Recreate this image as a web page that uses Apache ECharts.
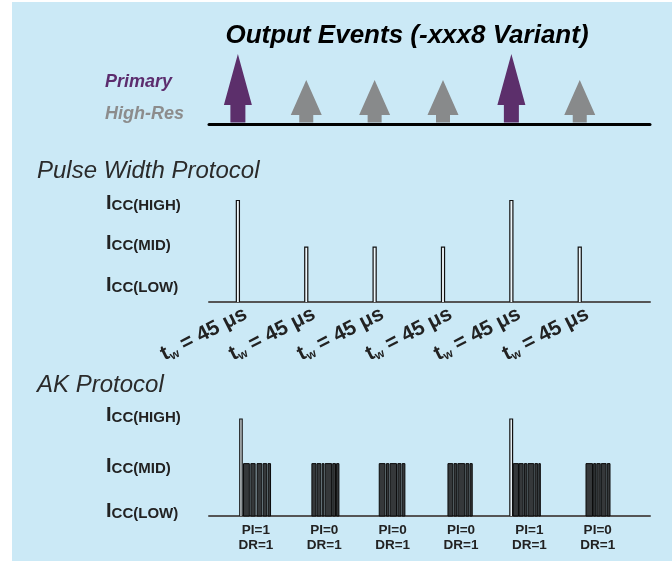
<!DOCTYPE html>
<html><head><meta charset="utf-8">
<script src="https://cdn.jsdelivr.net/npm/echarts@6/dist/echarts.min.js"></script>
<style>html,body{margin:0;padding:0;background:#fff;}#c{width:672px;height:561px;}</style>
</head><body><div id="c"></div>
<script>
// ---------------- data ----------------
const eventTimes   = [400, 1400, 2400, 3400, 4400, 5400];          // µs
const eventTypes   = ['Primary','High-Res','High-Res','High-Res','Primary','High-Res'];
const arrowHeights = [1, 0.63, 0.63, 0.63, 1, 0.63];
const levelNames   = ['LOW','MID','HIGH'];
const levelValues  = [0, 0.54, 1];
const pwLevels     = ['HIGH','MID','MID','MID','HIGH','MID'];
const pwWidth      = 45;                                            // µs
const twValue      = '45 μs';
const akPI         = [1, 0, 0, 0, 1, 0];
const akDR         = [1, 1, 1, 1, 1, 1];
const akHighOffset = [50, null, null, null, 0, null];               // µs after event
const akHighWidth  = [35, null, null, null, 40, null];
// burst blocks [offset µs after event, width µs]
const akBursts = [
  [[105,85],[212,63],[302,70],[392,52],[463,37]],
  [[105,60],[180,55],[255,25],[298,95],[410,40],[466,34]],
  [[90,85],[195,35],[248,95],[362,45],[425,40]],
  [[95,70],[183,40],[240,100],[358,42],[417,33]],
  [[51,75],[135,60],[213,35],[265,85],[367,40],[424,22]],
  [[114,95],[226,30],[272,50],[338,70],[425,40]]
];
const akLabelOffset = 285;                                          // µs after event
const timeRange = [0, 6450];

// ---------------- styles ----------------
const FF = 'Liberation Sans, Arial, sans-serif';
const arrowStyle = {
  'Primary':  {color:'#5c2f6b', head:51, headW:28, shaftW:15},
  'High-Res': {color:'#888a8b', head:35, headW:31, shaftW:14}
};
const lv = n => levelValues[levelNames.indexOf(n)];

// derived series data
const pwData = eventTimes.map((t,i)=>[t, t+pwWidth, lv(pwLevels[i]), 0]);
const akData = [];
eventTimes.forEach((t,i)=>{
  if (akHighOffset[i] !== null) akData.push([t+akHighOffset[i], t+akHighOffset[i]+akHighWidth[i], lv('HIGH'), 0]);
  akBursts[i].forEach(b=>akData.push([t+b[0], t+b[0]+b[1], lv('MID'), 1]));
});

function renderPulse(params, api){
  const x0 = api.value(0), x1 = api.value(1), y = api.value(2), kind = api.value(3);
  const a = api.coord([x0, 0]), b = api.coord([x1, y]);
  if (kind === 0) {
    return {type:'polyline', shape:{points:[[a[0],a[1]],[a[0],b[1]],[b[0],b[1]],[b[0],a[1]]]},
      style:{fill:'#eef7fb', stroke:'#111', lineWidth:1.2}};
  }
  return {type:'rect', shape:{x:a[0], y:b[1], width:b[0]-a[0], height:a[1]-b[1]},
    style:{fill:'#35383a', stroke:'#0a0a0a', lineWidth:1}};
}

function axisX(g, color, w){
  return {gridIndex:g, type:'value', min:timeRange[0], max:timeRange[1], position:'bottom',
    axisLine:{show:true, onZero:false, lineStyle:{color:color, width:w}},
    axisTick:{show:false}, axisLabel:{show:false}, splitLine:{show:false}};
}
function axisY(g){ return {gridIndex:g, type:'value', min:0, max:1, show:false, splitLine:{show:false}}; }

function iccLabel(name, x, y){
  return {type:'text', x:x, y:y, style:{
    text:'{i|I}{s|CC(' + name + ')}', fill:'#222', align:'left', verticalAlign:'bottom',
    rich:{
      i:{fontSize:20, fontWeight:'bold', lineHeight:20, verticalAlign:'bottom', fontFamily:FF, fill:'#222'},
      s:{fontSize:15, fontWeight:'bold', lineHeight:15, verticalAlign:'bottom', fontFamily:FF, fill:'#222'}
    }}};
}

const chart = echarts.init(document.getElementById('c'), null, {renderer:'canvas'});
chart.setOption({
  backgroundColor:'#ffffff',
  animation:false,
  grid:[
    {left:209, top:54, width:441, height:70},
    {left:209, top:200.5, width:441, height:101.5},
    {left:209, top:419, width:441, height:97}
  ],
  xAxis:[axisX(0,'#000',3), axisX(1,'#555',2), axisX(2,'#555',2)],
  yAxis:[axisY(0), axisY(1), axisY(2)],
  graphic:[
    {type:'rect', z:-100, silent:true, shape:{x:12, y:2, width:660, height:559}, style:{fill:'#cbe9f6'}},
    {type:'text', x:407, y:36, style:{text:'Output Events (-xxx8 Variant)', font:'italic bold 26px ' + FF, fill:'#000', align:'center', verticalAlign:'middle'}},
    {type:'text', x:105, y:82, style:{text:'Primary', font:'italic bold 18px ' + FF, fill:'#5c2d6e', align:'left', verticalAlign:'middle'}},
    {type:'text', x:105, y:114, style:{text:'High-Res', font:'italic bold 18px ' + FF, fill:'#8c8c8c', align:'left', verticalAlign:'middle'}},
    {type:'text', x:37, y:171.5, style:{text:'Pulse Width Protocol', font:'italic 24px ' + FF, fill:'#2b2b2b', align:'left', verticalAlign:'middle'}},
    {type:'text', x:37, y:385, style:{text:'AK Protocol', font:'italic 24px ' + FF, fill:'#2b2b2b', align:'left', verticalAlign:'middle'}},
    iccLabel('HIGH', 106, 213.5), iccLabel('MID', 106, 253.5), iccLabel('LOW', 106, 295),
    iccLabel('HIGH', 106, 425), iccLabel('MID', 106, 476.5), iccLabel('LOW', 106, 521.5)
  ],
  series:[
    { // output event arrows
      type:'custom', xAxisIndex:0, yAxisIndex:0,
      data: eventTimes.map((t,i)=>[t+pwWidth/2, arrowHeights[i]]),
      encode:{x:0, y:1},
      renderItem:(params, api)=>{
        const st = arrowStyle[eventTypes[params.dataIndex]];
        const base = api.coord([api.value(0), 0]);
        const tip = api.coord([api.value(0), api.value(1)]);
        const cx = base[0], hb = tip[1] + st.head, by = base[1] - 1.5;
        return {type:'polygon', shape:{points:[
          [cx-st.shaftW/2,by],[cx-st.shaftW/2,hb],[cx-st.headW/2,hb],[cx,tip[1]],
          [cx+st.headW/2,hb],[cx+st.shaftW/2,hb],[cx+st.shaftW/2,by]]},
          style:{fill:st.color}};
      }
    },
    { // pulse width protocol pulses
      type:'custom', xAxisIndex:1, yAxisIndex:1, data:pwData, encode:{x:[0,1], y:2},
      renderItem:renderPulse
    },
    { // tw labels
      type:'custom', xAxisIndex:1, yAxisIndex:1,
      data: eventTimes.map(t=>[t+pwWidth/2, 0]), encode:{x:0, y:1},
      renderItem:(params, api)=>{
        const p = api.coord([api.value(0), api.value(1)]);
        return {type:'text', x:p[0]+13, y:p[1]+21, rotation:27*Math.PI/180, style:{
          text:'{t|t}{w|w}{r| = ' + twValue + '}', fill:'#222', align:'right', verticalAlign:'bottom',
          rich:{
            t:{fontSize:21, fontWeight:'bold', lineHeight:22, verticalAlign:'top', fontFamily:FF, fill:'#222'},
            w:{fontSize:12, fontWeight:'bold', lineHeight:12, verticalAlign:'bottom', fontFamily:FF, fill:'#222'},
            r:{fontSize:21, fontWeight:'bold', lineHeight:22, verticalAlign:'top', fontFamily:FF, fill:'#222'}
          }}};
      }
    },
    { // AK protocol pulses
      type:'custom', xAxisIndex:2, yAxisIndex:2, data:akData, encode:{x:[0,1], y:2},
      renderItem:renderPulse
    },
    { // PI / DR labels
      type:'custom', xAxisIndex:2, yAxisIndex:2,
      data: eventTimes.map(t=>[t+akLabelOffset, 0]), encode:{x:0, y:1},
      renderItem:(params, api)=>{
        const i = params.dataIndex;
        const p = api.coord([api.value(0), api.value(1)]);
        return {type:'text', x:p[0], y:p[1]+7.5, style:{
          text:'PI=' + akPI[i] + '\nDR=' + akDR[i], fill:'#222', align:'center', verticalAlign:'top',
          fontSize:13.5, fontWeight:'bold', fontFamily:FF, lineHeight:14.5}};
      }
    }
  ]
});
</script>
</body></html>
